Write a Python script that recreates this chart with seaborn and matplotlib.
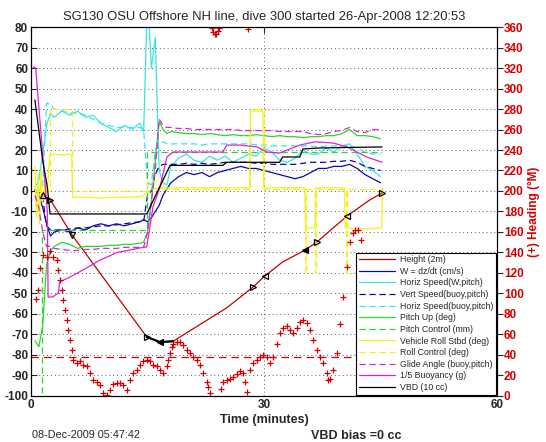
import matplotlib
matplotlib.use("Agg")
import matplotlib.pyplot as plt
import seaborn as sns

# ---- data (time in minutes) ----
# shared time base for the noisy flight-model traces
T = [0.5, 1.0, 1.5, 2.0, 2.5,
     3, 4, 5, 6, 7, 8, 9, 10, 11, 12, 13, 14,
     14.5, 15, 15.5, 16, 16.5, 17, 17.5,
     18, 19, 20, 21, 22, 23, 24, 25, 26, 27, 28, 29, 30, 31, 32, 33, 34, 35,
     36, 37, 38, 39, 40, 41, 42, 43, 44, 45]

w_speed = [0.5, -2, -8, -16, -22,
           -20, -19, -20, -18, -19, -17, -16, -17, -16, -17, -16, -15,
           -14, -15, -13, -10, -7, -2, 1,
           4, 7, 9, 8, 9, 7, 9, 10, 11, 12, 11, 11, 10, 9, 8, 7, 6, 7,
           9, 11, 11, 12, 12, 13, 11, 8, 6, 4]

horiz_w = [2, 5, 18, 32, 38,
           36, 39, 37, 39, 36, 37, 33, 31, 29, 32, 30, 33,
           29, 95, 60, 75, 10, 4, 3,
           12, 16, 18, 15, 14, 17, 15, 17, 14, 16, 18, 17, 21, 19, 15, 14, 16, 20,
           18, 18, 21, 19, 22, 23, 18, 12, 10, 7]

vert_buoy = [0, 0, -3, -17, -19,
             -19, -19, -18.5, -18, -18, -17.5, -17, -17, -16.5, -16, -15.5, -15,
             -15, -2, 0, 8, 12, 13, 13,
             13, 13, 13.5, 13, 13.5, 13, 13.5, 14, 14, 14, 14, 13.5, 13.5, 13, 13, 13, 13, 13.5,
             14, 14, 14, 14.5, 14.5, 15, 14, 12, 11, 10]

horiz_buoy = [0, 0, 2, 43, 42,
              40, 39, 38, 38, 37, 35, 33, 32, 31, 31, 31, 31,
              30, 4, 3, 20, 23, 24, 23,
              23, 23, 23, 23, 22.5, 23, 23, 23, 23, 23, 23, 22.5, 22.5, 22, 22, 22, 22, 22,
              22, 21.5, 22, 22, 22, 22, 21, 19, 18, 18]

pitch_up = [-73, -76, -66, -36, -29,
            -27, -25, -26, -28, -27, -27, -27, -26.5, -26.5, -26, -26, -25.5,
            -25, -20, -5, 15, 34, 30, 28,
            29, 28.5, 28, 28, 27.5, 28, 27.5, 27, 27.5, 27, 27, 27.5, 27, 26.5, 27, 26.5, 26.5, 26,
            26.5, 26.5, 27, 27, 28, 30, 27, 27, 26.5, 25.5]

glide = [-2, -8, -20, -27, -27,
         -28, -28.5, -29, -29, -28.5, -28.5, -28, -28, -28, -27.5, -27.5, -27.5,
         -27.5, -20, -5, 10, 35, 32, 31,
         31, 30.5, 30.5, 30, 30, 30, 30, 30, 30, 29.5, 29.5, 29.5, 29.5, 29.5, 29, 29, 29, 29,
         28, 27.5, 28, 29, 29.5, 31, 29, 28.5, 30, 30]

# depth trace (height / 2 m)
height_t = [0.5, 1.5, 2.5, 5.3, 14.9, 16.6, 18.3, 25.2, 28.6, 30.1, 32.4, 35.3,
            36.8, 40.7, 43.6, 45.2]
height_v = [0.5, -2, -4.4, -21.5, -71.2, -73.7, -73.3, -57, -46.8, -41.5, -34.6,
            -28.8, -24.9, -12.2, -4.4, -1]

# triangle markers sitting on the depth trace
tri_t = [1.5, 2.5, 5.3, 14.9, 16.6, 28.6, 30.1, 35.3, 36.8, 40.7, 45.2]
tri_v = [-2, -4.4, -21.5, -71.2, -73.7, -46.8, -41.5, -28.8, -24.9, -12.2, -1]
tri_m = ['^', '>', 'v', '>', '<', '>', '<', '<', '>', '<', '>']

# pitch control (step)
pc_t = [0.5, 1.4, 14.9, 45.2]
pc_v = [-105, -19, 19, 19]

# vehicle roll
roll_t = [0.5, 0.7, 0.9, 1.1, 1.3, 1.5, 1.8, 2.1, 2.4,
          3.0, 4.0, 5.0, 5.25, 5.35,
          7.0, 9.0, 11.0, 13.0, 14.4, 14.9, 15.5,
          17.0, 20.0, 23.0, 26.0,
          28.15, 28.25, 29.85, 29.95,
          32.0, 35.25, 35.35, 36.55, 36.65,
          38.0, 40.35, 40.45, 42.5, 45.15, 45.25]
roll_v = [12, -13, 8, -16, 10, -5, 3, 0, 17,
          18, 17.5, 18, 17, -3,
          -3, -3.5, -3, -3, -2.5, -1, 1,
          1.5, 1.5, 1.5, 1.5,
          1.5, 39, 39, 1.5,
          1.5, 1.5, -18, -18, 1.5,
          1.5, 1.5, -18, -18.5, -18, 1.5]

# roll control (step)
rc_t = [0.5, 2.4, 5.3, 14.9, 17.0, 28.2, 30.0, 35.25, 35.4, 36.55, 36.7, 40.5, 40.65, 45.2]
rc_v = [0, 40, 0, 5, 1, 40, 1, -40, 1, -40, 1, -40, 1, 1]

# 1/5 buoyancy
buoy_t = [0.3, 0.6, 2.1, 2.2, 2.8, 3.5, 3.7, 5.0, 6.7, 8.9, 11.1, 14.0, 14.9, 15.7,
          16.6, 17.5, 18.3, 24.7, 25.2, 26.9, 29.1, 30.4, 32.0, 34.6, 36.6, 38.9,
          40.7, 43.2, 45.2]
buoy_v = [60.5, 60, -10, -51.7, -51.7, -49.8, -44.4, -42, -38.5, -33.7, -30, -27.8,
          -27.3, -7.8, 1.9, 16.6, 19, 19, 22.4, 22.4, 21.5, 19, 18.5, 22.4, 24, 23.4,
          21.5, 16.6, 14]

# VBD (10 cc)
vbd_t = [0.5, 1.5, 2.1, 2.45, 14.9, 17.9, 24.7, 25.2, 32.0, 32.4, 34.6, 35.0, 37.2, 45.2]
vbd_v = [44.4, 15, 2, -11.2, -11.2, 12.5, 12.5, 14, 14, 16.6, 16.6, 20.5, 21, 21.5]

# heading (deg magnetic, right axis)
head_t = [0.6, 0.86, 1.16, 1.59, 2.02, 2.45, 2.87, 3.3, 3.52, 3.73, 3.95, 4.16, 4.38,
          4.59, 4.8, 5.02, 5.24, 5.45, 5.88, 6.31, 6.73, 7.17, 7.59, 8.02, 8.45, 8.88,
          9.31, 9.74, 10.17, 10.6, 11.03, 11.45, 11.88, 12.32, 12.74, 13.17, 13.6,
          14.03, 14.45, 14.89, 15.32, 15.74, 16.18, 16.6, 17.03, 17.46, 17.67, 17.89,
          18.11, 18.31, 18.75, 19.18, 19.6, 20.04, 20.46, 20.89, 21.33, 21.75, 22.18,
          22.6, 22.82, 23.04, 23.25, 23.45, 23.65, 23.85, 24.05, 24.25, 24.5, 24.75,
          25.18, 25.61, 26.04, 26.47, 26.9, 27.33, 27.54, 27.76, 28.0, 28.19, 28.6,
          29.05, 29.47, 29.9, 30.33, 30.76, 31.18, 31.62, 32.05, 32.47, 32.91, 33.33,
          33.76, 34.2, 34.62, 35.04, 35.48, 35.91, 36.33, 36.77, 37.19, 37.62, 38.06,
          38.27, 38.48, 38.9, 39.34, 39.77, 40.19, 40.63, 41.06, 41.48, 41.7, 42.13,
          42.55, 42.9]
head_h = [95, 103, 125, 138, 136, 141, 136, 133, 123, 113, 103, 94, 84,
          74, 64, 55, 45, 35, 32, 34, 30, 29, 22, 16, 14, 11,
          3, 1, 6, 12, 13, 13, 11, 6, 16, 22, 25,
          30, 34, 35, 34, 30, 29, 25, 22, 29, 35, 42,
          48, 51, 53, 53, 50, 45, 42, 38, 35, 30, 22,
          14, 9, 3, 359, 355, 353, 353, 356, 359, 7, 14,
          16, 17, 19, 21, 24, 22, 14, 4, 358, 25, 32,
          35, 38, 40, 38, 32, 38, 51, 61, 66, 68, 64,
          61, 66, 72, 74, 71, 64, 55, 45, 38, 32, 22,
          16, 17, 25, 42, 70, 97, 126, 150, 159, 162, 162,
          152, 133]
heading_target = 38

labels = ['Height (2m)', 'W = dz/dt (cm/s)', 'Horiz Speed(W,pitch)',
          'Vert Speed(buoy,pitch)', 'Horiz Speed(buoy,pitch)', 'Pitch Up (deg)',
          'Pitch Control (mm)', 'Vehicle Roll Stbd (deg)', 'Roll Control (deg)',
          'Glide Angle (buoy,pitch)', '1/5 Buoyancy (g)', 'VBD (10 cc)']

RED = '#d40000'
DRED = '#c00000'
NAVY = '#0a0aa8'
CYAN = '#3ae4e4'
GREEN = '#2ad62a'
YELLOW = '#f2f21a'
MAGENTA = '#dd22dd'

sns.set_style("white")
plt.rcParams['font.family'] = ['Liberation Sans', 'DejaVu Sans']
plt.rcParams['axes.unicode_minus'] = False

fig = plt.figure(figsize=(5.46, 4.42), dpi=100)
ax = fig.add_axes([0.0568, 0.1041, 0.8535, 0.8348])
ax2 = ax.twinx()

lw = 0.9
common = dict(ax=ax, sort=False, estimator=None, legend=False, linewidth=lw)
sns.lineplot(x=height_t, y=height_v, color=DRED, label=labels[0], **common)
sns.lineplot(x=T, y=w_speed, color=NAVY, label=labels[1], **common)
sns.lineplot(x=T, y=horiz_w, color=CYAN, label=labels[2], **common)
sns.lineplot(x=T, y=vert_buoy, color=NAVY, linestyle=(0, (5, 3)), label=labels[3], **common)
sns.lineplot(x=T, y=horiz_buoy, color=CYAN, linestyle=(0, (5, 3)), label=labels[4], **common)
sns.lineplot(x=T, y=pitch_up, color=GREEN, label=labels[5], **common)
sns.lineplot(x=pc_t, y=pc_v, color=GREEN, linestyle=(0, (5, 3)), drawstyle='steps-post',
             label=labels[6], **common)
sns.lineplot(x=roll_t, y=roll_v, color=YELLOW, label=labels[7], **common)
sns.lineplot(x=rc_t, y=rc_v, color=YELLOW, linestyle=(0, (5, 3)), drawstyle='steps-post',
             label=labels[8], **common)
sns.lineplot(x=T, y=glide, color=MAGENTA, linestyle=(0, (5, 3)), label=labels[9], **common)
sns.lineplot(x=buoy_t, y=buoy_v, color=MAGENTA, label=labels[10], **common)
sns.lineplot(x=vbd_t, y=vbd_v, color='black', label=labels[11], **common)

# bottom of the dive drawn in black on the depth trace
sns.lineplot(x=height_t[4:7], y=height_v[4:7], ax=ax, sort=False, estimator=None,
             legend=False, color='black', linewidth=1.6)
for t, v, m in zip(tri_t, tri_v, tri_m):
    filled = m == '<' and t in (16.6, 35.3)
    ax.plot(t, v, marker=m, ms=5, mec='black', mew=0.9,
            mfc='black' if filled else 'none', zorder=5)

# heading on the right axis
sns.scatterplot(x=head_t, y=head_h, ax=ax2, marker='+', color=RED, s=13,
                linewidth=0.9, legend=False)
ax2.axhline(heading_target, color=RED, linestyle=(0, (6, 4)), linewidth=0.9)

ax.set_xlim(0, 60)
ax.set_ylim(-100, 80)
ax.set_xticks([0, 30, 60])
ax.set_yticks(range(-100, 81, 10))
ax2.set_ylim(0, 360)
ax2.set_yticks(range(0, 361, 20))

ax.grid(True, linestyle=(0, (1, 3)), color='0.35', linewidth=0.7)
ax.tick_params(axis='both', direction='in', length=4, width=0.8, labelsize=8.5,
               top=True, right=False, pad=2)
ax2.tick_params(axis='y', direction='out', length=4, width=0.8, labelsize=8.5,
                labelcolor=RED, pad=1)
for lbl in ax.get_xticklabels() + ax.get_yticklabels() + ax2.get_yticklabels():
    lbl.set_fontweight('bold')
for a in (ax, ax2):
    for s in a.spines.values():
        s.set_color('black')
        s.set_linewidth(0.8)

ax.set_title('SG130 OSU Offshore NH line, dive 300 started 26-Apr-2008 12:20:53',
             fontsize=9.4, pad=5)
ax.set_xlabel('Time (minutes)', fontsize=9, fontweight='bold', labelpad=2)
ax2.set_ylabel('(+) Heading (°M)', color=RED, fontsize=8.5, fontweight='bold', labelpad=3)

handles, labs = ax.get_legend_handles_labels()
leg = ax2.legend(handles, labs, loc='lower right', fontsize=6.3, frameon=True,
                 fancybox=False, edgecolor='black', framealpha=1, borderaxespad=0.15,
                 handlelength=4.2, labelspacing=0.3, borderpad=0.3, handletextpad=0.5)
leg.get_frame().set_linewidth(0.8)

fig.text(0.059, 0.016, '08-Dec-2009 05:47:42', fontsize=7.8, va='center')
fig.text(0.652, 0.014, 'VBD bias =0 cc', fontsize=9, fontweight='bold',
         ha='center', va='center')

fig.savefig('out.png', dpi=100)
